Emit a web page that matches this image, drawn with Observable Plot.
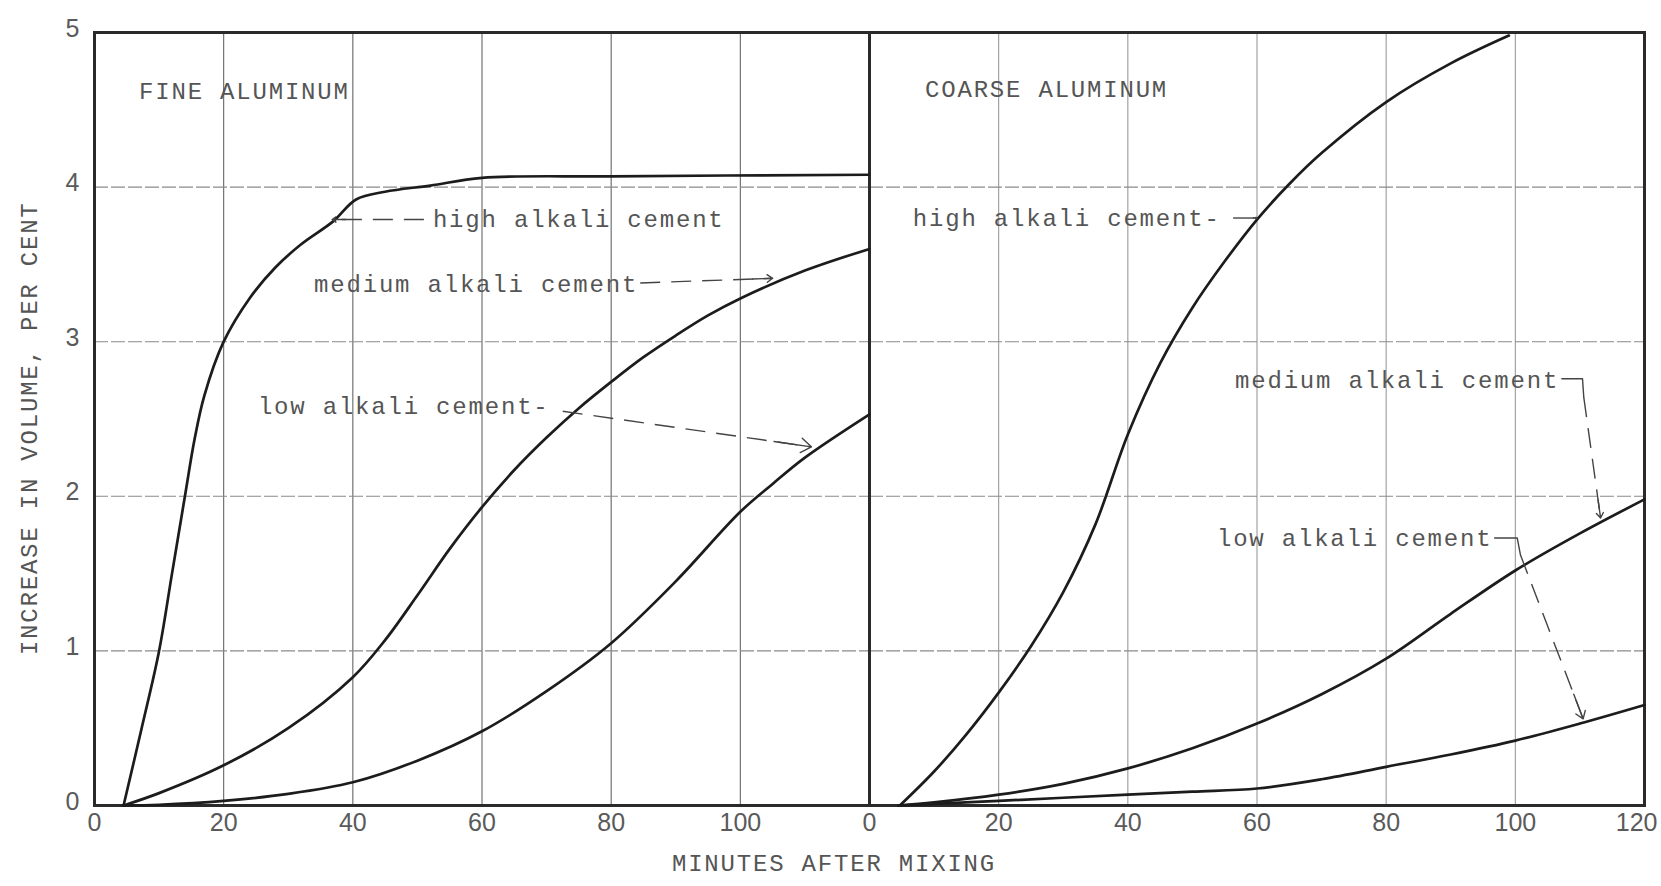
<!DOCTYPE html>
<html>
<head>
<meta charset="utf-8">
<script src="https://cdn.jsdelivr.net/npm/d3@7"></script>
<script src="https://cdn.jsdelivr.net/npm/@observablehq/plot@0.6"></script>
<style>
  body { margin: 0; background: #fff; }
</style>
</head>
<body>
<div id="chart"></div>
<script>
// ---------------- data ----------------
const panels = ["FINE ALUMINUM", "COARSE ALUMINUM"];

// FINE ALUMINUM
const fineHighX = [4.5, 7.3, 10, 12, 14, 15.5, 17, 20, 24, 28, 32, 37, 40.5, 45, 52, 60, 80, 120];
const fineHighY = [0, 0.5, 1.0, 1.5, 2.0, 2.37, 2.65, 3.0, 3.28, 3.48, 3.63, 3.78, 3.92, 3.97, 4.01, 4.06, 4.07, 4.08];
const fineMedX = [4.5, 10, 20, 30, 40, 45, 50, 55, 60, 65, 70, 75, 80, 85, 90, 95, 100, 110, 120];
const fineMedY = [0, 0.08, 0.26, 0.5, 0.83, 1.07, 1.36, 1.66, 1.93, 2.17, 2.38, 2.57, 2.74, 2.9, 3.04, 3.17, 3.28, 3.46, 3.6];
const fineLowX = [4.5, 10, 20, 30, 40, 50, 60, 70, 80, 90, 100, 105, 110, 120];
const fineLowY = [0, 0.005, 0.03, 0.075, 0.15, 0.29, 0.48, 0.74, 1.05, 1.45, 1.9, 2.08, 2.25, 2.53];

// COARSE ALUMINUM
const coarseHighX = [4.7, 10, 15, 20, 25, 30, 35, 40, 45, 50, 55, 60, 65, 70, 80, 90, 99];
const coarseHighY = [0, 0.22, 0.46, 0.73, 1.03, 1.38, 1.82, 2.4, 2.86, 3.22, 3.52, 3.79, 4.02, 4.22, 4.55, 4.8, 4.98];
const coarseMedX = [4.5, 10, 20, 30, 40, 50, 60, 70, 80, 90, 100, 110, 120];
const coarseMedY = [0, 0.02, 0.07, 0.14, 0.24, 0.37, 0.53, 0.72, 0.95, 1.24, 1.52, 1.76, 1.98];
const coarseLowX = [4.5, 10, 20, 30, 40, 50, 60, 70, 80, 90, 100, 110, 120];
const coarseLowY = [0, 0.01, 0.03, 0.05, 0.07, 0.09, 0.11, 0.17, 0.25, 0.33, 0.42, 0.53, 0.65];

// ticks and labels
const xTicksFine = [0, 20, 40, 60, 80, 100];
const xTicksCoarse = [0, 20, 40, 60, 80, 100];
const xTickLast = [120];
const yTicks = [0, 1, 2, 3, 4, 5];
const xGrid = [20, 40, 60, 80, 100];
const yGrid = [1, 2, 3, 4];
const xLabel = "MINUTES AFTER MIXING";
const yLabel = "INCREASE IN VOLUME, PER CENT";

// annotations (data units)
const labelTexts = [
  {panel: panels[0], x: 6.9, y: 4.62, text: "FINE ALUMINUM"},
  {panel: panels[0], x: 52.4, y: 3.79, text: "high alkali cement"},
  {panel: panels[0], x: 34, y: 3.37, text: "medium alkali cement"},
  {panel: panels[0], x: 25.3, y: 2.58, text: "low alkali cement-"},
  {panel: panels[1], x: 8.6, y: 4.63, text: "COARSE ALUMINUM"},
  {panel: panels[1], x: 6.7, y: 3.8, text: "high alkali cement-"},
  {panel: panels[1], x: 56.6, y: 2.75, text: "medium alkali cement"},
  {panel: panels[1], x: 53.8, y: 1.73, text: "low alkali cement"}
];
// leaders: from (x1,y1) to arrow tip (x2,y2)
const leaders = [
  {panel: panels[0], x1: 51, y1: 3.79, x2: 36.8, y2: 3.79, dashed: true},
  {panel: panels[0], x1: 84.5, y1: 3.38, x2: 105, y2: 3.41, dashed: true},
  {panel: panels[0], x1: 72.5, y1: 2.55, x2: 111, y2: 2.32, dashed: true},
  {panel: panels[1], x1: 56.3, y1: 3.8, x2: 60, y2: 3.8, dashed: false},
  {panel: panels[1], x1: 110.6, y1: 2.64, x2: 113.2, y2: 1.86, dashed: true},
  {panel: panels[1], x1: 100.8, y1: 1.62, x2: 110.5, y2: 0.56, dashed: true}
];
// short solid hooks at the end of typed labels
const hooks = [
  {panel: panels[1], id: "m", xs: [107.2, 110.4, 110.6], ys: [2.76, 2.76, 2.64]},
  {panel: panels[1], id: "l", xs: [96.8, 100.3, 100.8], ys: [1.73, 1.73, 1.62]}
];

// ---------------- build rows ----------------
function rows(panel, series, xs, ys) {
  return xs.map((x, i) => ({panel, series: panel + series, x, y: ys[i]}));
}
const curves = [
  ...rows(panels[0], "high", fineHighX, fineHighY),
  ...rows(panels[0], "medium", fineMedX, fineMedY),
  ...rows(panels[0], "low", fineLowX, fineLowY),
  ...rows(panels[1], "high", coarseHighX, coarseHighY),
  ...rows(panels[1], "medium", coarseMedX, coarseMedY),
  ...rows(panels[1], "low", coarseLowX, coarseLowY)
];
const xTickRows = [
  ...xTicksFine.map(v => ({panel: panels[0], v})),
  ...xTicksCoarse.map(v => ({panel: panels[1], v}))
];
const xTickLastRows = xTickLast.map(v => ({panel: panels[1], v}));
const gridFine = xGrid.map(v => ({panel: panels[0], v}));
const gridCoarse = xGrid.map(v => ({panel: panels[1], v}));
const hookRows = hooks.flatMap(h => h.xs.map((x, i) => ({panel: h.panel, id: h.id, x, y: h.ys[i]})));
// arrowhead segment: last part of each leader
const heads = leaders.map(d => ({
  panel: d.panel,
  x1: d.x1 + (d.x2 - d.x1) * 0.85, y1: d.y1 + (d.y2 - d.y1) * 0.85,
  x2: d.x2, y2: d.y2
}));

const typeFont = "Liberation Mono, DejaVu Sans Mono, monospace";
const numFont = "Liberation Sans, DejaVu Sans, sans-serif";
const typedStrings = new Set([...labelTexts.map(d => d.text), xLabel, yLabel]);

const chart = Plot.plot({
  width: 1661,
  height: 886,
  marginLeft: 93,
  marginRight: 17,
  marginTop: 32,
  marginBottom: 81,
  fx: {domain: panels, padding: 0, axis: null},
  x: {domain: [0, 120], axis: null},
  y: {domain: [0, 5], axis: null},
  marks: [
    Plot.ruleX(gridFine, {fx: "panel", x: "v", stroke: "#666", strokeWidth: 1.1}),
    Plot.ruleX(gridCoarse, {fx: "panel", x: "v", stroke: "#9a9a9a", strokeWidth: 1.1}),
    Plot.ruleY(yGrid, {stroke: "#8a8a8a", strokeWidth: 1.1, strokeDasharray: "14,3"}),
    Plot.frame({stroke: "#2a2a2a", strokeWidth: 3}),
    Plot.line(curves, {x: "x", y: "y", z: "series", fx: "panel", curve: "catmull-rom", stroke: "#1c1c1c", strokeWidth: 2.7}),
    // leaders
    Plot.link(leaders.filter(d => d.dashed), {fx: "panel", x1: "x1", y1: "y1", x2: "x2", y2: "y2", stroke: "#444", strokeWidth: 1.4, strokeDasharray: "20,11"}),
    Plot.link(leaders.filter(d => !d.dashed), {fx: "panel", x1: "x1", y1: "y1", x2: "x2", y2: "y2", stroke: "#444", strokeWidth: 1.4}),
    Plot.arrow(heads, {fx: "panel", x1: "x1", y1: "y1", x2: "x2", y2: "y2", stroke: "#444", strokeWidth: 1.4, headLength: 14, headAngle: 70}),
    Plot.line(hookRows, {fx: "panel", x: "x", y: "y", z: "id", stroke: "#444", strokeWidth: 1.4}),
    // typed labels
    Plot.text(labelTexts, {fx: "panel", x: "x", y: "y", text: "text", textAnchor: "start", fontFamily: typeFont, fontSize: 24, fill: "#555"}),
    // tick labels
    Plot.text(xTickRows, {fx: "panel", x: "v", text: d => String(d.v), frameAnchor: "bottom", dy: 25, fontFamily: numFont, fontSize: 25, fill: "#5a5a5a"}),
    Plot.text(xTickLastRows, {fx: "panel", x: "v", text: d => String(d.v), frameAnchor: "bottom", dy: 25, dx: 13, textAnchor: "end", fontFamily: numFont, fontSize: 25, fill: "#5a5a5a"}),
    Plot.text(yTicks, {fx: () => panels[0], y: d => d, text: d => String(d), frameAnchor: "left", textAnchor: "middle", dx: -22, dy: -4, fontFamily: numFont, fontSize: 25, fill: "#5a5a5a"}),
    // axis titles
    Plot.text([xLabel], {fx: () => panels[0], x: () => 114.5, text: d => d, frameAnchor: "bottom", dy: 65, fontFamily: typeFont, fontSize: 24, fill: "#555"}),
    Plot.text([yLabel], {fx: () => panels[0], y: () => 2.44, text: d => d, frameAnchor: "left", textAnchor: "middle", dx: -65, rotate: -90, fontFamily: typeFont, fontSize: 24, fill: "#555"})
  ]
});

d3.select(chart).selectAll("text")
  .filter(function() { return typedStrings.has(this.textContent); })
  .attr("letter-spacing", "1.8px");
document.getElementById("chart").appendChild(chart);
</script>
</body>
</html>
